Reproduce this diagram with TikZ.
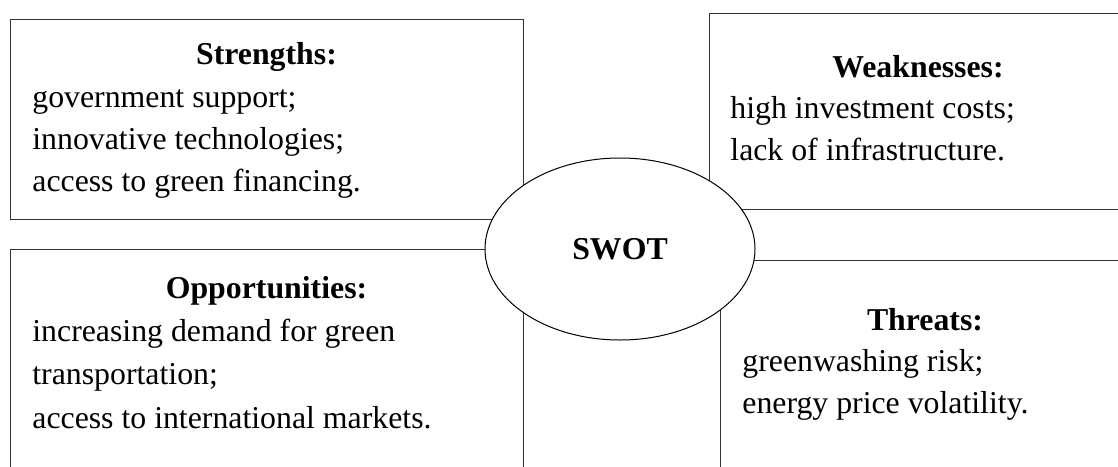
\documentclass[tikz,border=0pt]{standalone}
\usepackage{fontspec}
\setmainfont{Liberation Serif}
\usetikzlibrary{shapes.geometric}
\tikzset{
  quad/.style={draw=black!80, line width=0.5pt},
  head/.style={font=\fontsize{15.9}{20.85}\selectfont\bfseries, anchor=base, inner sep=0pt},
  body/.style={font=\fontsize{15.9}{20.85}\selectfont, align=left, anchor=base west, inner sep=0pt}
}
\begin{document}
\begin{tikzpicture}[x=0.5pt,y=-0.5pt]
  \useasboundingbox (0,0) rectangle (1118,466);
  \clip (0,0) rectangle (1118,466);
  % the four quarters
  \draw[quad] (10,19) rectangle (523,219);
  \draw[quad] (709,13) rectangle (1127,209);
  \draw[quad] (10,249) rectangle (523,490);
  \draw[quad] (720,260) rectangle (1130,490);
  % body nodes sit on the baseline of their last line
  \node[head] (strh) at (266.5,64) {Strengths:};
  \node[body] (strb) at (32,191) {government support;\\innovative technologies;\\access to green financing.};
  \node[head] (weah) at (918,77) {Weaknesses:};
  \node[body] (weab) at (730,160) {high investment costs;\\lack of infrastructure.};
  \node[head] (opph) at (266.5,298) {Opportunities:};
  \node[body, font=\fontsize{15.9}{21.6}\selectfont] (oppb) at (32,428) {increasing demand for green\\transportation;\\access to international markets.};
  \node[head] (thrh) at (925,330) {Threats:};
  \node[body] (thrb) at (742,413) {greenwashing risk;\\energy price volatility.};
  % centre
  \node[draw, ellipse, fill=white, line width=0.5pt, minimum width=135pt, minimum height=91pt, inner sep=0pt,
        font=\fontsize{15.9}{20.85}\selectfont\bfseries] (swot) at (620,249) {SWOT};
\end{tikzpicture}
\end{document}
